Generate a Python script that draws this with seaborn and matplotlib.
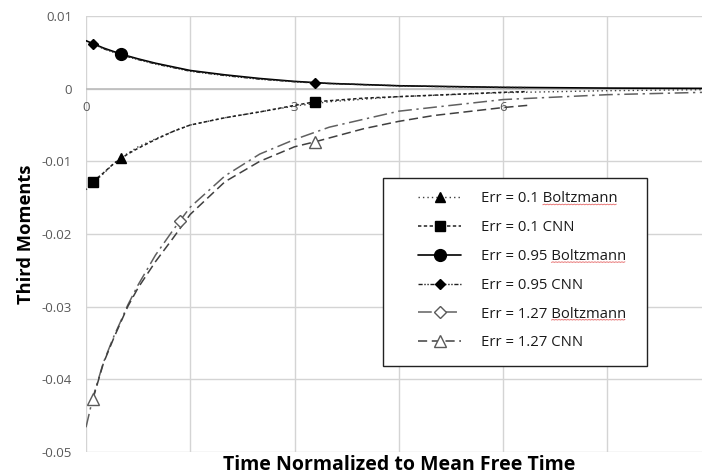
import numpy as np
import pandas as pd
import matplotlib
matplotlib.use("Agg")
import matplotlib.pyplot as plt
from matplotlib.lines import Line2D
from matplotlib.patches import Rectangle
from matplotlib.transforms import IdentityTransform
import seaborn as sns

# Time (normalized to mean free time) sample points
t_boltz = [0, 0.1, 0.25, 0.4, 0.5, 0.6, 0.75, 1.0, 1.25, 1.35, 1.5, 2.0, 2.5,
           3.0, 3.5, 4.5, 6.0, 7.5, 8.9]
t_cnn = [0.1, 0.25, 0.4, 0.6, 0.75, 1.0, 1.25, 1.5, 2.0, 2.5, 3.0, 3.3, 4.0,
         4.5, 5.0, 6.0, 6.35]

# Third moments, Boltzmann solver
m_boltz_010 = [-0.0139, -0.0130, -0.0117, -0.0103, -0.00955, -0.0089, -0.0080,
               -0.0069, -0.0059, -0.0055, -0.0050, -0.0040, -0.0032, -0.0024,
               -0.0018, -0.0011, -0.00055, -0.00028, -0.00014]
m_boltz_095 = [0.0066, 0.0062, 0.0056, 0.0051, 0.0048, 0.0045, 0.0041, 0.0035,
               0.0030, 0.0028, 0.0025, 0.0019, 0.0014, 0.0010, 0.00072, 0.0004,
               0.00018, 0.00008, 0.00004]
m_boltz_127 = [-0.0466, -0.0425, -0.0377, -0.0341, -0.0320, -0.0298, -0.0270,
               -0.0229, -0.0195, -0.0182, -0.0163, -0.0120, -0.0090, -0.0070,
               -0.0053, -0.0031, -0.0015, -0.00083, -0.0005]

# Third moments, CNN model
m_cnn_010 = [-0.0128, -0.0116, -0.0103, -0.0090, -0.0082, -0.0070, -0.0059,
             -0.0050, -0.0040, -0.0032, -0.0023, -0.0018, -0.0013, -0.0011,
             -0.0009, -0.0005, -0.0004]
m_cnn_095 = [0.0062, 0.0055, 0.0050, 0.0044, 0.0040, 0.0034, 0.0029, 0.0024,
             0.0018, 0.0013, 0.00095, 0.00078, 0.00055, 0.0004, 0.0003,
             0.00017, 0.00015]
m_cnn_127 = [-0.0427, -0.0378, -0.0343, -0.0300, -0.0274, -0.0238, -0.0206,
             -0.0173, -0.0128, -0.0100, -0.0080, -0.0073, -0.0055, -0.0045,
             -0.0037, -0.0026, -0.0023]

series_labels = ["Err = 0.1 Boltzmann", "Err = 0.1 CNN",
                 "Err = 0.95 Boltzmann", "Err = 0.95 CNN",
                 "Err = 1.27 Boltzmann", "Err = 1.27 CNN"]

x_tick_values = [0, 3, 6]
x_tick_labels = ["0", "3", "6"]
y_tick_values = [-0.05, -0.04, -0.03, -0.02, -0.01, 0, 0.01]
y_tick_labels = ["-0.05", "-0.04", "-0.03", "-0.02", "-0.01", "0", "0.01"]

sns.set_theme(style="white")
plt.rcParams["font.family"] = ["Open Sans", "DejaVu Sans"]
plt.rcParams["axes.unicode_minus"] = False

fig = plt.figure(figsize=(7.02, 4.75), dpi=100)
ax = fig.add_axes([86 / 702, 1 - 452 / 475, 616 / 702, 436 / 475])

# (x, y, color, dashes, marker, marker size, marker face, marker indices, linewidth)
styles = [
    (t_boltz, m_boltz_010, "#404040", (0, (1, 2.2)), "^", 7.5, "black", [4], 1.0),
    (t_cnn, m_cnn_010, "#202020", (0, (2.2, 1.6)), "s", 7.5, "black", [0, 11], 1.1),
    (t_boltz, m_boltz_095, "black", "-", "o", 8.5, "black", [4], 1.2),
    (t_cnn, m_cnn_095, "#202020", (0, (3, 1.2, 1, 1.2, 1, 1.2)), "D", 5.5, "black", [0, 11], 1.0),
    (t_boltz, m_boltz_127, "#606060", (0, (9, 3, 1.5, 3)), "D", 6.5, "white", [9], 1.1),
    (t_cnn, m_cnn_127, "#404040", (0, (6, 3)), "^", 8.0, "white", [0, 11], 1.1),
]

handles = []
for (tx, my, col, ls, mk, ms, mfc, idx, lw), lab in zip(styles, series_labels):
    df = pd.DataFrame({"t": tx, "m": my})
    sns.lineplot(data=df, x="t", y="m", ax=ax, color=col, linestyle=ls,
                 linewidth=lw, sort=False, estimator=None, errorbar=None,
                 zorder=3)
    mec = "#595959" if mfc == "white" else "black"
    sub = df.iloc[idx]
    ax.plot(sub["t"], sub["m"], linestyle="none", marker=mk, markersize=ms,
            markerfacecolor=mfc, markeredgecolor=mec, markeredgewidth=1.0,
            zorder=4)
    handles.append(Line2D([], [], color=col, linestyle=ls, linewidth=lw,
                          marker=mk, markersize=ms, markerfacecolor=mfc,
                          markeredgecolor=mec, markeredgewidth=1.0))

ax.set_xlim(0, 616 / 69.5)
ax.set_ylim(-0.05, 0.01)

# gridlines every 1.5 time units, labels every 3 sitting on the zero line
ax.set_xticks(x_tick_values)
ax.set_xticklabels(x_tick_labels)
ax.set_xticks([1.5, 4.5, 7.5], minor=True)
ax.set_yticks(y_tick_values)
ax.set_yticklabels(y_tick_labels)
ax.grid(True, which="both", axis="both", color="#d4d4d4", linewidth=1.0)
ax.axhline(0, color="#bcbcbc", linewidth=1.2, zorder=1)
for s in ax.spines.values():
    s.set_visible(False)
ax.spines["bottom"].set_position(("data", 0))
ax.tick_params(axis="x", which="both", length=0, pad=9, labelsize=9.5,
               labelcolor="#595959")
ax.tick_params(axis="y", length=0, pad=10, labelsize=9.5, labelcolor="#595959")

ax.set_xlabel("")
fig.text(0.569, 1 - 469.5 / 475, "Time Normalized to Mean Free Time",
         fontsize=14.0, fontweight="bold", color="black",
         ha="center", va="baseline")
ax.set_ylabel("Third Moments", fontsize=13.2, fontweight="bold", color="black")
ax.yaxis.set_label_coords(-0.082, 0.5)

# legend box
ax.add_patch(Rectangle((0.482, 0.197), 0.4286, 0.431, transform=ax.transAxes,
                       facecolor="white", edgecolor="#222222", linewidth=1.0,
                       zorder=6, clip_on=False))
leg = ax.legend(handles, series_labels, loc="upper left",
                bbox_to_anchor=(0.539, 0.598), frameon=False, fontsize=10.7,
                handlelength=2.9, handletextpad=1.35, borderpad=0,
                borderaxespad=0, labelspacing=0.93, numpoints=1)
leg.set_zorder(7)
for txt in leg.get_texts():
    txt.set_color("#1a1a1a")

# spell-check style red underline under "Boltzmann"
fig.canvas.draw()
renderer = fig.canvas.get_renderer()
for txt in leg.get_texts():
    s = txt.get_text()
    if "Boltzmann" in s:
        bb = txt.get_window_extent(renderer)
        pre = s[:s.index("Boltzmann")]
        w_pre, _, _ = renderer.get_text_width_height_descent(
            pre, txt.get_fontproperties(), ismath=False)
        x0, x1 = bb.x0 + w_pre, bb.x1
        xs = np.arange(x0, x1, 1.5)
        ys = bb.y0 + 1.5 + 0.6 * (np.arange(len(xs)) % 2)
        fig.add_artist(Line2D(xs, ys, transform=IdentityTransform(),
                              color="#e87878", linewidth=0.7, zorder=8))

fig.savefig("out.png", dpi=100)
